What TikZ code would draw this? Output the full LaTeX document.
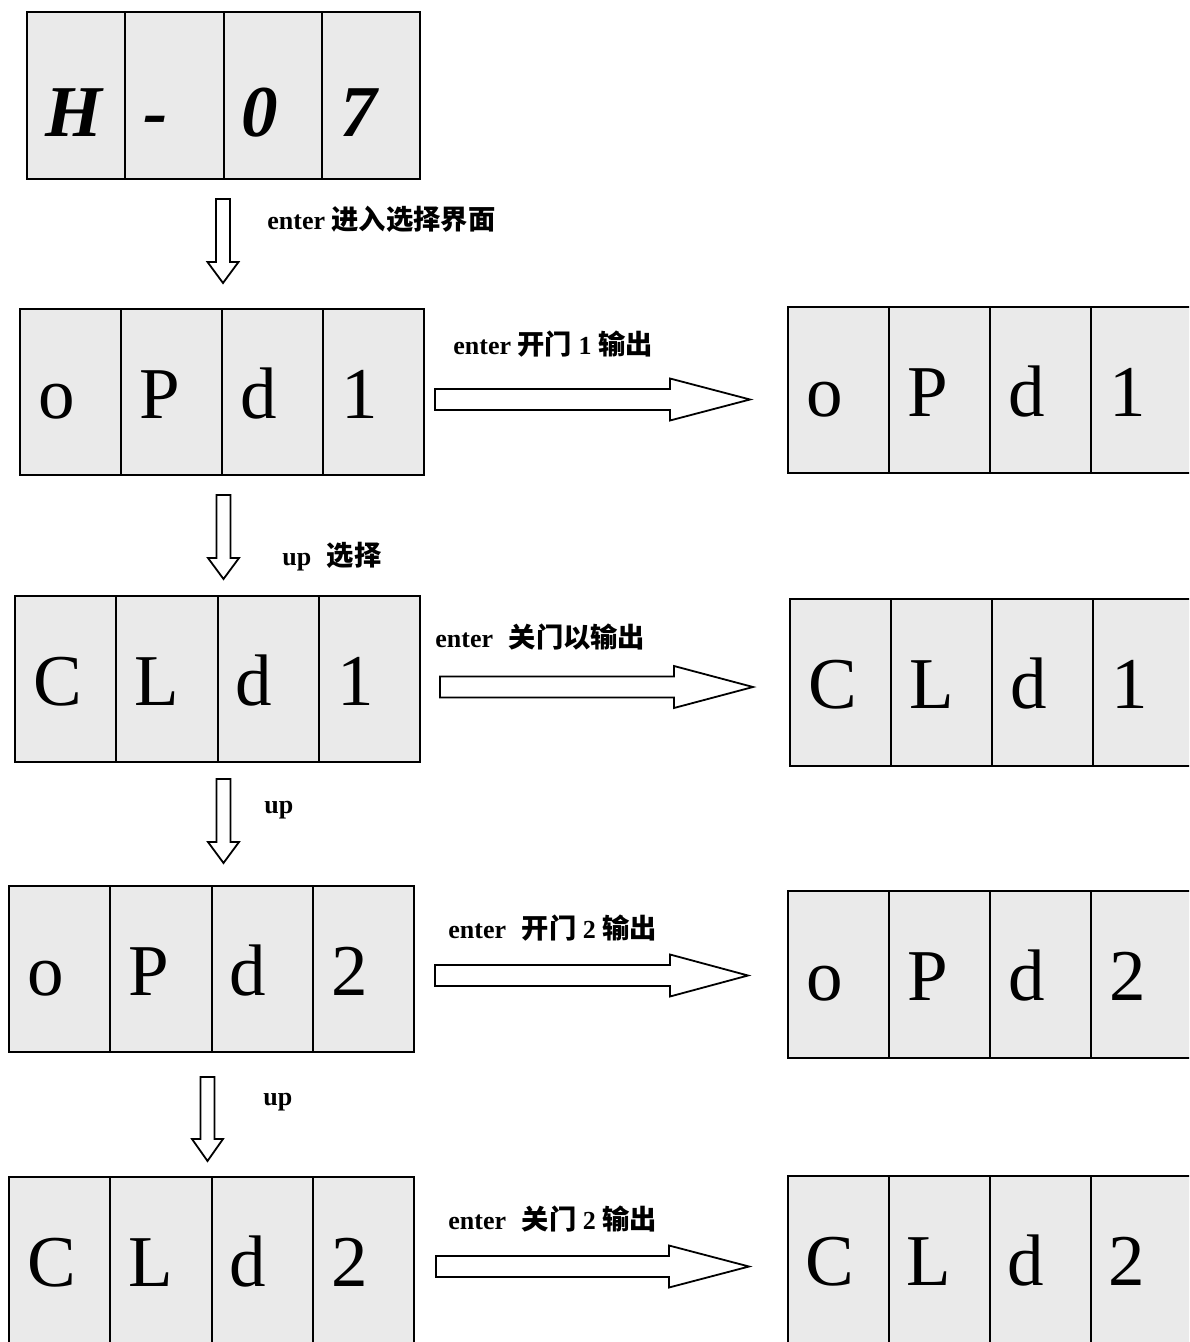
\documentclass[tikz,border=0pt]{standalone}
\usepackage{fontspec}
\setmainfont{Liberation Serif}
\newfontfamily\cjk{Noto Sans CJK SC}[Scale=1.05]
\definecolor{cellfill}{HTML}{EAEAEA}
\def\baseoff{109}
\newcommand\drow[9]{%
  \foreach \k/\t in {0/{#6},1/{#7},2/{#8},3/{#9}}{%
    \draw[cellbox] ({#2+\k*#3},#4) rectangle ({#2+(\k+1)*#3},#5);
    \node[bigletter] (#1-\k) at ({#2+\k*#3+18},{#4+\baseoff}) {\t};
  }%
}
\newcommand\darrow[5]{%
  \draw[hollow] ({#2-7},#3) -- ({#2+7},#3) -- ({#2+7},#4) -- ({#2+15.5},#4)
    -- (#2,#5) coordinate (#1-tip) -- ({#2-15.5},#4) -- ({#2-7},#4) -- cycle;
}
\newcommand\harrow[5]{%
  \draw[hollow] (#2,{#3-10.5}) -- (#4,{#3-10.5}) -- (#4,{#3-21})
    -- (#5,#3) coordinate (#1-tip) -- (#4,{#3+21}) -- (#4,{#3+10.5}) -- (#2,{#3+10.5}) -- cycle;
}
\tikzset{
  cellbox/.style={draw=black, fill=cellfill, line width=1pt},
  bigletter/.style={anchor=base west, inner sep=0pt, font=\fontsize{36.5}{40}\selectfont},
  hollow/.style={draw=black, fill=white, line width=0.9pt, line join=miter},
  lbl/.style={anchor=base west, inner sep=0pt, font=\fontsize{13}{15}\selectfont\bfseries}
}
\begin{document}
\begin{tikzpicture}[x=0.5pt,y=-0.5pt]
\useasboundingbox (0,0) rectangle (1189,1342);
\clip (0,0) rectangle (1189,1342);
\fill[white] (0,0) rectangle (1189,1342);
% left column
\def\baseoff{125}
\drow{a}{27}{98.25}{12}{179}{\bfseries\itshape H}{\bfseries\itshape -}{\bfseries\itshape 0}{\bfseries\itshape 7}
\def\baseoff{109}
\drow{b}{20}{101}{309}{475}{o}{P}{d}{1}
\drow{c}{15}{101.25}{596}{762}{C}{L}{d}{1}
\drow{d}{9}{101.25}{886}{1052}{o}{P}{d}{2}
\drow{e}{9}{101.25}{1177}{1345}{C}{L}{d}{2}
% right column
\drow{p}{788}{101}{307}{473}{o}{P}{d}{1}
\drow{q}{790}{101}{599}{766}{C}{L}{d}{1}
\drow{r}{788}{101}{891}{1058}{o}{P}{d}{2}
\drow{s}{787.5}{101}{1176}{1345}{C}{L}{d}{2}
% down arrows
\darrow{d1}{223}{199}{262}{283}
\darrow{d2}{223.5}{495}{558}{579}
\darrow{d3}{223.5}{779}{842}{863}
\darrow{d4}{207.5}{1077}{1139}{1161}
% right arrows
\harrow{h1}{435}{399.5}{670}{750}
\harrow{h2}{440}{687}{674}{753}
\harrow{h3}{435}{975.5}{670}{748}
\harrow{h4}{436}{1266.5}{669}{749}
% labels
\node[lbl] (l1) at (267,230) {enter {\cjk 进入选择界面}};
\node[lbl] (l2) at (282,565) {up\hspace{0.6em}{\cjk 选择}};
\node[lbl] (l3) at (264,813) {up};
\node[lbl] (l4) at (263,1105) {up};
\node[lbl] (l5) at (453,355) {enter {\cjk 开门} 1 {\cjk 输出}};
\node[lbl] (l6) at (435,647) {enter\hspace{0.6em}{\cjk 关门以输出}};
\node[lbl] (l7) at (448,938) {enter\hspace{0.6em}{\cjk 开门} 2 {\cjk 输出}};
\node[lbl] (l8) at (448,1229) {enter\hspace{0.6em}{\cjk 关门} 2 {\cjk 输出}};
\end{tikzpicture}
\end{document}
